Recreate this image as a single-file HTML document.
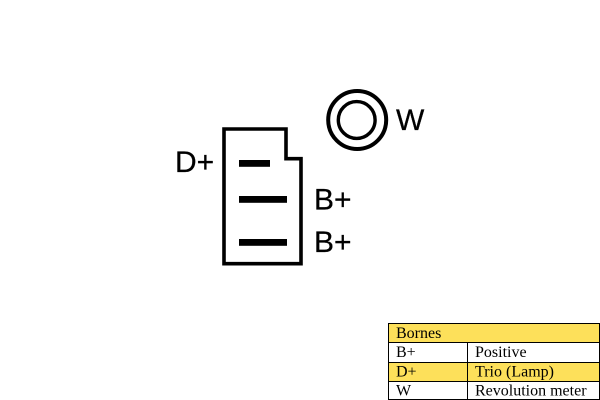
<!DOCTYPE html>
<html>
<head>
<meta charset="utf-8">
<style>
html,body{margin:0;padding:0;background:#fff;width:600px;height:400px;overflow:hidden}
svg{display:block}
.a{font-family:"Liberation Sans",Arial,sans-serif;font-size:30px;fill:#000;stroke:#000;stroke-width:.25px}
.t{font-family:"Liberation Serif","Times New Roman",serif;font-size:16px;fill:#000}
</style>
</head>
<body>
<svg width="600" height="400" viewBox="0 0 600 400" xmlns="http://www.w3.org/2000/svg">
<rect width="600" height="400" fill="#fff"/>
<path d="M224 129H286V158.7H301V263.7H224Z" fill="#fff" stroke="#000" stroke-width="3.6"/>
<rect x="239" y="160" width="31" height="6.8" fill="#000"/>
<rect x="239" y="196" width="48" height="6.8" fill="#000"/>
<rect x="239" y="239" width="48" height="6.8" fill="#000"/>
<circle cx="357.2" cy="120" r="29" fill="#fff" stroke="#000" stroke-width="4"/>
<circle cx="356.7" cy="120" r="18.4" fill="#fff" stroke="#000" stroke-width="3.4"/>
<text class="a" x="175" y="172">D+</text>
<text class="a" x="314" y="209.5">B+</text>
<text class="a" x="314" y="252">B+</text>
<text class="a" x="396" y="130">W</text>

<rect x="389" y="324" width="210" height="19" fill="#fde05a"/>
<rect x="389" y="362" width="210" height="19.5" fill="#fde05a"/>
<g stroke="#000" stroke-width="1" fill="none" shape-rendering="crispEdges">
<rect x="388.5" y="323.5" width="211" height="76"/>
<path d="M389 342.5H600M389 362.5H600M389 381.5H600M467.5 343V400"/>
</g>
<text class="t" x="396" y="338">Bornes</text>
<text class="t" x="396" y="357">B+</text>
<text class="t" x="475" y="357">Positive</text>
<text class="t" x="396" y="376.5">D+</text>
<text class="t" x="475" y="376.5">Trio (Lamp)</text>
<text class="t" x="396" y="395.5">W</text>
<text class="t" x="475" y="395.5">Revolution meter</text>
</svg>
</body>
</html>
